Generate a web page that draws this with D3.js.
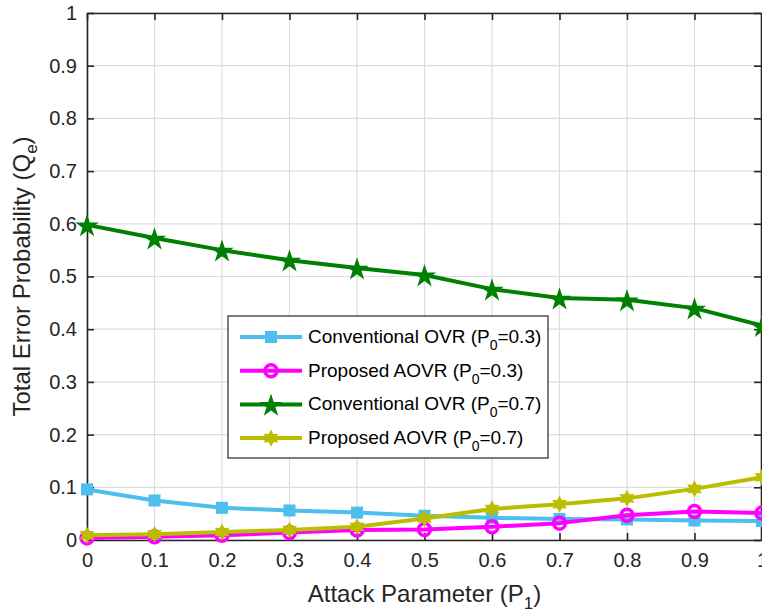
<!DOCTYPE html>
<html>
<head>
<meta charset="utf-8">
<script src="https://cdn.jsdelivr.net/npm/d3@7"></script>
<style>
  body { margin: 0; background: #fff; }
  svg { font-family: "Liberation Sans", Arial, sans-serif; }
</style>
</head>
<body>
<div id="chart"></div>
<script>
const width = 762;
const height = 613;

const margin = { top: 13, left: 87, bottom: 73, right: 0 };

// data
const attack = [0, 0.1, 0.2, 0.3, 0.4, 0.5, 0.6, 0.7, 0.8, 0.9, 1];
const convOvr03 = [0.096, 0.075, 0.061, 0.056, 0.052, 0.046, 0.042, 0.040, 0.039, 0.037, 0.036];
const propAovr03 = [0.004, 0.006, 0.009, 0.014, 0.019, 0.020, 0.025, 0.032, 0.047, 0.054, 0.051];
const convOvr07 = [0.598, 0.573, 0.550, 0.531, 0.516, 0.503, 0.476, 0.459, 0.456, 0.440, 0.407];
const propAovr07 = [0.009, 0.011, 0.015, 0.019, 0.025, 0.041, 0.059, 0.068, 0.079, 0.097, 0.119];
const xTicks = [0, 0.1, 0.2, 0.3, 0.4, 0.5, 0.6, 0.7, 0.8, 0.9, 1];
const yTicks = [0, 0.1, 0.2, 0.3, 0.4, 0.5, 0.6, 0.7, 0.8, 0.9, 1];

const series = [
    { name: "Conventional OVR", p0: "0.3", values: convOvr03, color: "#4DBEEE", marker: "square" },
    { name: "Proposed AOVR", p0: "0.3", values: propAovr03, color: "#FF00FF", marker: "circle" },
    { name: "Conventional OVR", p0: "0.7", values: convOvr07, color: "#008000", marker: "star5" },
    { name: "Proposed AOVR", p0: "0.7", values: propAovr07, color: "#BDBD00", marker: "star6" }
];

const xScale = d3.scaleLinear().domain([0, 1]).range([margin.left, width - margin.right]);
const yScale = d3.scaleLinear().domain([0, 1]).range([height - margin.bottom, margin.top]);

const svg = d3.select("#chart").append("svg").attr("width", width).attr("height", height);

// grid
svg.append("g")
    .selectAll("line")
    .data(xTicks)
    .join("line")
    .attr("x1", d => xScale(d)).attr("x2", d => xScale(d))
    .attr("y1", yScale(0)).attr("y2", yScale(1))
    .attr("stroke", "#dcdcdc").attr("stroke-width", 1.2);

svg.append("g")
    .selectAll("line")
    .data(yTicks)
    .join("line")
    .attr("y1", d => yScale(d)).attr("y2", d => yScale(d))
    .attr("x1", xScale(0)).attr("x2", xScale(1))
    .attr("stroke", "#dcdcdc").attr("stroke-width", 1.2);

// axes, MATLAB style ticks inward
const xAxis = d3.axisBottom(xScale).tickValues(xTicks).tickSizeInner(-7).tickSizeOuter(0).tickPadding(13).tickFormat(d3.format("~g"));
const yAxis = d3.axisLeft(yScale).tickValues(yTicks).tickSizeInner(-7).tickSizeOuter(0).tickPadding(10).tickFormat(d3.format("~g"));

const gx = svg.append("g").attr("transform", `translate(0,${yScale(0)})`).call(xAxis);
const gy = svg.append("g").attr("transform", `translate(${xScale(0)},0)`).call(yAxis);
svg.append("g").attr("transform", `translate(0,${yScale(1)})`)
    .call(d3.axisTop(xScale).tickValues(xTicks).tickSizeInner(-7).tickSizeOuter(0).tickFormat(""));
svg.append("g").attr("transform", `translate(${xScale(1) - 1},0)`)
    .call(d3.axisRight(yScale).tickValues(yTicks).tickSizeInner(-7).tickSizeOuter(0).tickFormat(""));

svg.selectAll(".domain").attr("stroke", "#262626").attr("stroke-width", 1.6);
svg.selectAll(".tick line").attr("stroke", "#262626").attr("stroke-width", 1.6);
svg.selectAll(".tick text").attr("fill", "#262626").style("font-size", "20px");
gx.selectAll(".tick text").attr("dy", "0.71em");

// markers
const star5 = d3.symbol().type(d3.symbolStar).size(170);
const star6 = d3.symbol().type({
    draw(ctx, size) {
        const r = Math.sqrt(size) * 0.62, ri = r * 0.55;
        for (let i = 0; i < 12; i++) {
            const a = -Math.PI / 2 + i * Math.PI / 6;
            const rr = i % 2 === 0 ? r : ri;
            if (i === 0) ctx.moveTo(rr * Math.cos(a), rr * Math.sin(a));
            else ctx.lineTo(rr * Math.cos(a), rr * Math.sin(a));
        }
        ctx.closePath();
    }
}).size(190);

function drawMarker(g, s, x, y) {
    if (s.marker === "square") {
        g.append("rect").attr("x", x - 6).attr("y", y - 6).attr("width", 12).attr("height", 12)
            .attr("fill", s.color);
    } else if (s.marker === "circle") {
        g.append("circle").attr("cx", x).attr("cy", y).attr("r", 6)
            .attr("fill", "none").attr("stroke", s.color).attr("stroke-width", 3.5);
    } else if (s.marker === "star5") {
        g.append("path").attr("d", star5).attr("transform", `translate(${x},${y + 1.5})`)
            .attr("fill", s.color);
    } else {
        g.append("path").attr("d", star6).attr("transform", `translate(${x},${y})`)
            .attr("fill", s.color);
    }
}

const line = d3.line().x(d => xScale(d[0])).y(d => yScale(d[1]));

series.forEach(function (s) {
    const pts = attack.map((a, i) => [a, s.values[i]]);
    const g = svg.append("g");
    g.append("path").datum(pts)
        .attr("fill", "none").attr("stroke", s.color).attr("stroke-width", 4)
        .attr("stroke-linejoin", "round")
        .attr("d", line);
    pts.forEach(p => drawMarker(g, s, xScale(p[0]), yScale(p[1])));
});

// axis labels
svg.append("text")
    .attr("x", (xScale(0) + xScale(1)) / 2).attr("y", 602)
    .attr("text-anchor", "middle").attr("fill", "#262626")
    .style("font-size", "24px")
    .html('Attack Parameter (P<tspan dy="7" font-size="17px">1</tspan><tspan dy="-7">)</tspan>');

svg.append("text")
    .attr("transform", `translate(30,${(yScale(0) + yScale(1)) / 2}) rotate(-90)`)
    .attr("text-anchor", "middle").attr("fill", "#262626")
    .style("font-size", "24px")
    .html('Total Error Probability (Q<tspan dy="7" font-size="17px">e</tspan><tspan dy="-7">)</tspan>');

// legend
const legend = svg.append("g").attr("transform", "translate(228,316)");
legend.append("rect").attr("width", 320).attr("height", 142)
    .attr("fill", "#fff").attr("stroke", "#262626").attr("stroke-width", 1.2);

series.forEach(function (s, i) {
    const y = 21 + i * 33.7;
    const g = legend.append("g");
    g.append("line").attr("x1", 12).attr("x2", 74).attr("y1", y).attr("y2", y)
        .attr("stroke", s.color).attr("stroke-width", 4);
    drawMarker(g, s, 43, y);
    g.append("text").attr("x", 80).attr("y", y + 6)
        .attr("fill", "#000").style("font-size", "19px")
        .html(`${s.name} (P<tspan dy="7" font-size="14px">0</tspan><tspan dy="-7">=${s.p0})</tspan>`);
});
</script>
</body>
</html>
